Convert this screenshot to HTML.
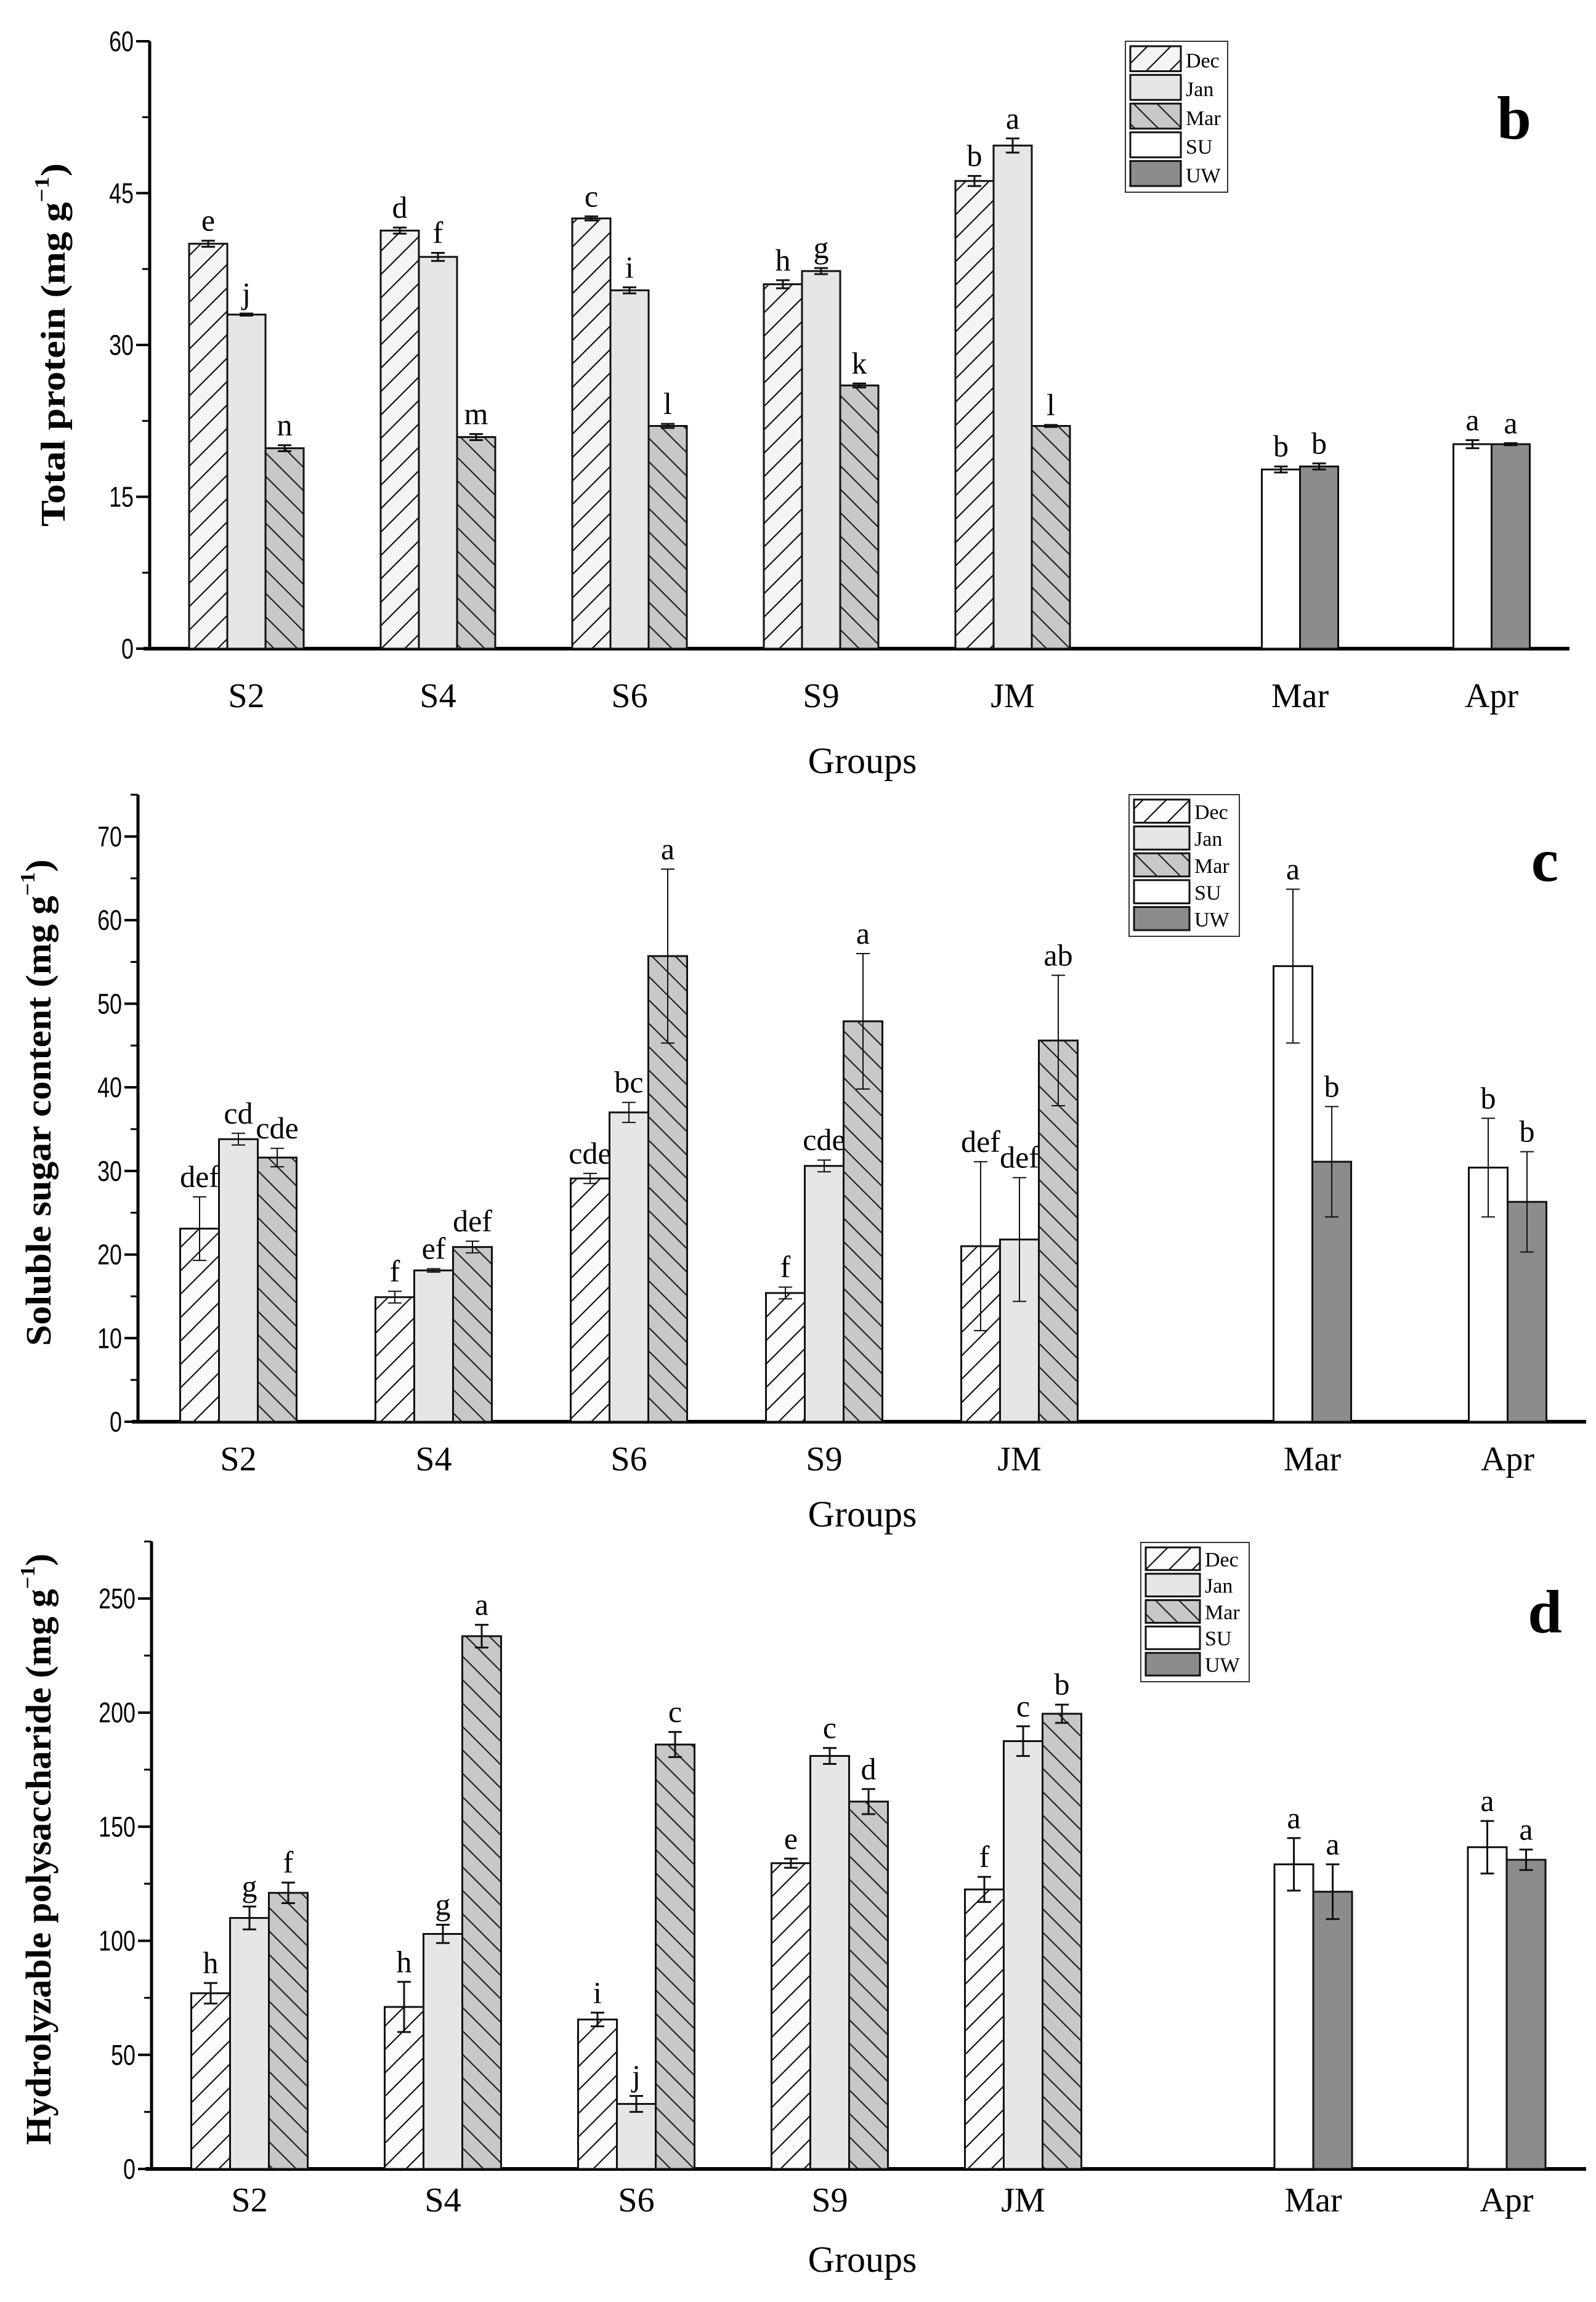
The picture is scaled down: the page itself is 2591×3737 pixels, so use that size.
<!DOCTYPE html>
<html><head><meta charset="utf-8"><style>
html,body{margin:0;padding:0;background:#fff}
svg{display:block}
text{font-family:"Liberation Serif",serif;fill:#000}
.tick{font-family:"Liberation Sans",sans-serif}
</style></head><body>
<svg id="chart" width="2591" height="3737" viewBox="0 0 2591 3737" xmlns="http://www.w3.org/2000/svg">
<defs>
<pattern id="hDec" patternUnits="userSpaceOnUse" width="38" height="38"><rect width="38" height="38" fill="#f4f4f4"/><path d="M-5,43 L43,-5 M-10,10 L10,-10 M28,48 L48,28" stroke="#111" stroke-width="2.2"/></pattern>
<pattern id="hDecW" patternUnits="userSpaceOnUse" width="38" height="38"><rect width="38" height="38" fill="#fbfbfb"/><path d="M-5,43 L43,-5 M-10,10 L10,-10 M28,48 L48,28" stroke="#111" stroke-width="2.2"/></pattern>
<pattern id="hMar" patternUnits="userSpaceOnUse" width="38" height="38"><rect width="38" height="38" fill="#c8c8c8"/><path d="M-5,-5 L43,43 M-10,28 L10,48 M28,-10 L48,10" stroke="#222" stroke-width="2.2"/></pattern>
</defs>
<g id="root"></g>
</svg>
<script>
// ---- Panel b: Total protein ----
const categories = ["S2","S4","S6","S9","JM"];
const seasonCats = ["Mar","Apr"];
const bDec = [40.0, 41.3, 42.5, 36.0, 46.2];
const bDecErr = [0.3, 0.3, 0.2, 0.4, 0.5];
const bJan = [33.0, 38.7, 35.4, 37.3, 49.7];
const bJanErr = [0.1, 0.4, 0.3, 0.3, 0.7];
const bMar = [19.8, 20.9, 22.0, 26.0, 22.0];
const bMarErr = [0.3, 0.3, 0.2, 0.2, 0.1];
const bSU = [17.7, 20.2];
const bSUErr = [0.3, 0.4];
const bUW = [18.0, 20.2];
const bUWErr = [0.3, 0.1];
const bLetters = [["e","j","n"],["d","f","m"],["c","i","l"],["h","g","k"],["b","a","l"]];
const bSeasonLetters = [["b","b"],["a","a"]];
const bTicks = [0, 15, 30, 45, 60];
// ---- Panel c: Soluble sugar ----
const cDec = [23.1, 14.9, 29.1, 15.4, 21.0];
const cDecErr = [3.8, 0.7, 0.6, 0.7, 10.1];
const cJan = [33.8, 18.1, 37.0, 30.6, 21.8];
const cJanErr = [0.7, 0.2, 1.2, 0.7, 7.4];
const cMar = [31.6, 20.9, 55.7, 47.9, 45.6];
const cMarErr = [1.1, 0.7, 10.4, 8.1, 7.8];
const cSU = [54.5, 30.4];
const cSUErr = [9.2, 5.9];
const cUW = [31.1, 26.3];
const cUWErr = [6.6, 6.0];
const cLetters = [["def","cd","cde"],["f","ef","def"],["cde","bc","a"],["f","cde","a"],["def","def","ab"]];
const cSeasonLetters = [["a","b"],["b","b"]];
const cTicks = [0, 10, 20, 30, 40, 50, 60, 70];
// ---- Panel d: Hydrolyzable polysaccharide ----
const dDec = [77, 71, 65.5, 134, 122.5];
const dDecErr = [4.5, 11, 3, 2, 5.5];
const dJan = [110, 103, 28.5, 181, 187.5];
const dJanErr = [5, 4, 3.5, 3.5, 6.5];
const dMar = [121, 233.5, 186, 161, 199.5];
const dMarErr = [4.5, 5, 5.5, 5.5, 4];
const dSU = [133.5, 141];
const dSUErr = [11.5, 11.5];
const dUW = [121.5, 135.5];
const dUWErr = [12, 4.5];
const dLetters = [["h","g","f"],["h","g","a"],["i","j","c"],["e","c","d"],["f","c","b"]];
const dSeasonLetters = [["a","a"],["a","a"]];
const dTicks = [0, 50, 100, 150, 200, 250];

const NS = "http://www.w3.org/2000/svg";
const root = document.getElementById("root");
function mk(tag, attrs, parent){const e=document.createElementNS(NS,tag);for(const k in attrs)e.setAttribute(k,attrs[k]);(parent||root).appendChild(e);return e;}

function panel(cfg){
  const g = mk("g",{});
  
  
  const y = v => cfg.y0 - (v - 0) * (cfg.y0 - cfg.yTop) / (cfg.vTop);
  const xc = i => cfg.c0 + i * cfg.step;
  const bw = cfg.bw;
  // axes
  const ax = mk("line",{x1:cfg.ax,y1:y(cfg.vMax),x2:cfg.ax,y2:cfg.y0,stroke:"#000","stroke-width":5},g);
  
  
  const xa = mk("line",{x1:cfg.ax-10,y1:cfg.y0,x2:cfg.xEnd,y2:cfg.y0,stroke:"#000","stroke-width":6},g);
  
  
  cfg.ticks.forEach((t,k)=>{
    mk("line",{x1:cfg.ax-22,y1:y(t),x2:cfg.ax,y2:y(t),stroke:"#000","stroke-width":4},g);
    if(k<cfg.ticks.length-1||cfg.minorTop){const m=t+cfg.minor; if(m<=cfg.vMax) mk("line",{x1:cfg.ax-12,y1:y(m),x2:cfg.ax,y2:y(m),stroke:"#000","stroke-width":3},g);}
    const tl = mk("text",{class:"tick",x:0,y:0,"font-size":46,"text-anchor":"end",transform:`translate(${cfg.ax-26},${y(t)+16}) scale(0.78,1)`},g);
    tl.textContent = t;
    
    
  });
  function bar(x, v, err, fill, letter, name, thin){
    const r = mk("rect",{x:x,y:y(v),width:bw,height:cfg.y0-y(v),fill:fill,stroke:"#111","stroke-width":3},g);
    
    
    const cx = x + bw/2, w = thin?2:3;
    mk("line",{x1:cx,y1:y(v+err),x2:cx,y2:y(v-err),stroke:"#111","stroke-width":w},g);
    mk("line",{x1:cx-11,y1:y(v+err),x2:cx+11,y2:y(v+err),stroke:"#111","stroke-width":w},g);
    mk("line",{x1:cx-11,y1:y(v-err),x2:cx+11,y2:y(v-err),stroke:"#111","stroke-width":w},g);
    const t = mk("text",{x:cx,y:y(v+err)-16,"font-size":50,"text-anchor":"middle"},g);
    t.textContent = letter;
    
    
  }
  const series = [[cfg.dec,cfg.decE,cfg.decFill,"bar-dec"],[cfg.jan,cfg.janE,"#e6e6e6","bar-jan"],[cfg.mar,cfg.marE,"url(#hMar)","bar-mar"]];
  categories.forEach((c,i)=>{
    series.forEach((s,j)=>bar(xc(i)+(j-1.5)*bw, s[0][i], s[1][i], s[2], cfg.letters[i][j], s[3], cfg.thin));
    const l = mk("text",{x:xc(i),y:cfg.catY,"font-size":56,"text-anchor":"middle"},g);
    l.textContent = c;
    
    
  });
  seasonCats.forEach((c,i)=>{
    const cx = xc(5.5+i);
    bar(cx-bw, cfg.su[i], cfg.suE[i], "#ffffff", cfg.sLetters[i][0], "bar-su", cfg.thin);
    bar(cx, cfg.uw[i], cfg.uwE[i], "#8c8c8c", cfg.sLetters[i][1], "bar-uw", cfg.thin);
    const l = mk("text",{x:cx,y:cfg.catY,"font-size":56,"text-anchor":"middle"},g);
    l.textContent = c;
    
    
  });
  const gx = mk("text",{x:1400,y:cfg.groupsY,"font-size":60,"text-anchor":"middle"},g);
  gx.textContent = "Groups";
  
  
  const yt = mk("text",{x:0,y:0,"font-size":cfg.tsize,"text-anchor":"middle","font-weight":"bold",textLength:cfg.tlen,lengthAdjust:"spacingAndGlyphs",transform:`translate(${cfg.tx},${cfg.ty}) rotate(-90)`},g);
  yt.innerHTML = cfg.title + ' (mg g<tspan dy="-26" font-size="34">−1</tspan><tspan dy="26">)</tspan>';
  
  
  const pl = mk("text",{x:cfg.px,y:cfg.py,"font-size":100,"font-weight":"bold","text-anchor":"middle"},g);
  pl.textContent = cfg.plabel;
  
  
  // legend
  const L = cfg.leg;
  const lg = mk("g",{},g);
  
  
  mk("rect",{x:L.x,y:L.y,width:L.w,height:L.h,fill:"#fff",stroke:"#333","stroke-width":2},lg);
  const lf=[cfg.decFill,"#e6e6e6","url(#hMar)","#ffffff","#8c8c8c"], ln=["Dec","Jan","Mar","SU","UW"];
  const rh=(L.h-12)/5;
  ln.forEach((n,k)=>{
    const e = mk("g",{},lg);
    
    
    mk("rect",{x:L.x+8,y:L.y+6+k*rh+2,width:L.sw,height:rh-6,fill:lf[k],stroke:"#111","stroke-width":3},e);
    const t = mk("text",{x:L.x+L.sw+16,y:L.y+6+k*rh+rh-10,"font-size":34},e);
    t.textContent = n;
  });
}

panel({name:"panel-b-total-protein", ax:243, y0:1053, yTop:67, vTop:60, vMax:60, minor:7.5, ticks:bTicks,
  xEnd:2548, c0:400, step:311, bw:62, dec:bDec, decE:bDecErr, decFill:"url(#hDec)", jan:bJan, janE:bJanErr, mar:bMar, marE:bMarErr,
  su:bSU, suE:bSUErr, uw:bUW, uwE:bUWErr, letters:bLetters, sLetters:bSeasonLetters, catY:1148, groupsY:1255,
  title:"Total  protein", tx:105, ty:560, tsize:56, tlen:590, px:2458, py:225, plabel:"b",
  leg:{x:1827,y:67,w:166,h:245,sw:82}});
panel({name:"panel-c-soluble-sugar", ax:224, y0:2308, yTop:1358, vTop:70, vMax:75, minor:5, minorTop:true, ticks:cTicks,
  xEnd:2575, c0:387, step:317, bw:63, dec:cDec, decE:cDecErr, decFill:"url(#hDecW)", jan:cJan, janE:cJanErr, mar:cMar, marE:cMarErr,
  su:cSU, suE:cSUErr, uw:cUW, uwE:cUWErr, letters:cLetters, sLetters:cSeasonLetters, catY:2387, groupsY:2478, thin:true,
  title:"Soluble sugar content", tx:82, ty:1790, tsize:58, tlen:790, px:2508, py:1430, plabel:"c",
  leg:{x:1833,y:1290,w:179,h:230,sw:90}});
panel({name:"panel-d-hydrolyzable-polysaccharide", ax:246, y0:3521, yTop:2595, vTop:250, vMax:275, minor:25, minorTop:true, ticks:dTicks,
  xEnd:2575, c0:405, step:314, bw:63, dec:dDec, decE:dDecErr, decFill:"url(#hDecW)", jan:dJan, janE:dJanErr, mar:dMar, marE:dMarErr,
  su:dSU, suE:dSUErr, uw:dUW, uwE:dUWErr, letters:dLetters, sLetters:dSeasonLetters, catY:3590, groupsY:3688,
  title:"Hydrolyzable polysaccharide", tx:82, ty:3002, tsize:58, tlen:960, px:2508, py:2650, plabel:"d",
  leg:{x:1852,y:2504,w:176,h:226,sw:88}});
</script>
</body></html>
